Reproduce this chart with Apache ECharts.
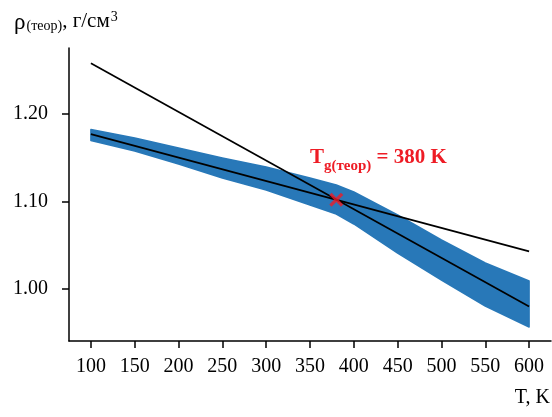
<!DOCTYPE html>
<html><head><meta charset="utf-8">
<script src="https://cdn.jsdelivr.net/npm/echarts@6/dist/echarts.min.js"></script>
<style>html,body{margin:0;padding:0;background:#fff}#c{width:552px;height:417px}</style>
</head><body><div id="c"></div>
<script>
// Scatter band envelope (T, K -> density bounds)
const bandT     = [100,    150,    200,    250,    300,    350,    380,    400,    450,    500,    550,    600];
const bandLower = [1.1697, 1.1577, 1.1429, 1.1269, 1.1131, 1.0960, 1.0857, 1.0743, 1.0411, 1.0103, 0.9806, 0.9566];
const bandUpper = [1.1823, 1.1726, 1.1611, 1.1497, 1.1394, 1.1269, 1.1189, 1.1109, 1.0846, 1.0560, 1.0297, 1.0091];
// Fit lines
const fitGlassT = [100, 600];
const fitGlassRho = [1.177, 1.043];
const fitMeltT = [100, 600];
const fitMeltRho = [1.258, 0.980];
// Glass transition point
const tgPoint = [380, 1.102];
// Ticks
const xTicks = [100, 150, 200, 250, 300, 350, 400, 450, 500, 550, 600];
const yTicks = [1.00, 1.10, 1.20];

const BLUE = '#2878b8';
const RED = '#ee1c25';
const FONT = '"Liberation Serif", "Times New Roman", serif';
const X_PATH = 'path://M2,0 L6,4 L10,0 L12,2 L8,6 L12,10 L10,12 L6,8 L2,12 L0,10 L4,6 L0,2 Z';

const chart = echarts.init(document.getElementById('c'), null, {renderer: 'canvas'});
const bandData = bandT.map((t, i) => [t, bandLower[i], bandUpper[i]]);

chart.setOption({
  animation: false,
  backgroundColor: '#fff',
  grid: {left: 69, right: 1, top: 48, bottom: 76, containLabel: false, outerBoundsMode: 'none'},
  xAxis: {
    type: 'value', min: 75, max: 625,
    axisLine: {show: true, onZero: false, lineStyle: {color: '#000', width: 1.5}},
    axisTick: {show: true, customValues: xTicks, length: 7, lineStyle: {color: '#000', width: 1.5}},
    axisLabel: {customValues: xTicks, color: '#000', fontSize: 20, fontFamily: FONT, margin: 16},
    splitLine: {show: false}
  },
  yAxis: {
    type: 'value', min: 0.9406, max: 1.2754,
    axisLine: {show: true, onZero: false, lineStyle: {color: '#000', width: 1.5}},
    axisTick: {show: true, customValues: yTicks, length: 7, lineStyle: {color: '#000', width: 1.5}},
    axisLabel: {customValues: yTicks, color: '#000', fontSize: 20, fontFamily: FONT, margin: 21,
      formatter: v => v.toFixed(2)},
    splitLine: {show: false}
  },
  series: [
    {
      type: 'custom', z: 2, silent: true,
      data: bandData,
      encode: {x: 0, y: [1, 2]},
      renderItem: function (params, api) {
        if (params.dataIndex !== 0) return null;
        const pts = [];
        for (let i = 0; i < bandData.length; i++) pts.push(api.coord([bandData[i][0], bandData[i][2]]));
        for (let i = bandData.length - 1; i >= 0; i--) pts.push(api.coord([bandData[i][0], bandData[i][1]]));
        return {type: 'polygon', shape: {points: pts}, style: {fill: BLUE, stroke: BLUE, lineWidth: 1.5, lineJoin: 'round'}};
      }
    },
    {
      type: 'line', z: 3, symbol: 'none', silent: true,
      data: fitGlassT.map((t, i) => [t, fitGlassRho[i]]),
      lineStyle: {color: '#000', width: 1.7}
    },
    {
      type: 'line', z: 3, symbol: 'none', silent: true,
      data: fitMeltT.map((t, i) => [t, fitMeltRho[i]]),
      lineStyle: {color: '#000', width: 1.7}
    },
    {
      type: 'scatter', z: 4, silent: true,
      data: [tgPoint], symbol: X_PATH, symbolSize: 14,
      itemStyle: {color: RED}
    }
  ],
  graphic: [
    {
      type: 'text', left: 14, top: 10, silent: true,
      style: {
        text: '{r|ρ}{s|(теор)}{m|, г/см}{p|3}',
        fill: '#000', font: '21px ' + FONT, align: 'left', verticalAlign: 'top',
        rich: {
          r: {fontSize: 23, fontFamily: FONT, lineHeight: 22, padding: [1, 1, 0, 0], verticalAlign: 'top'},
          s: {fontSize: 14, fontFamily: FONT, lineHeight: 14, padding: [9, 0, 0, 0], verticalAlign: 'top'},
          m: {fontSize: 21, fontFamily: FONT, lineHeight: 22, padding: [1, 0, 0, 0], verticalAlign: 'top'},
          p: {fontSize: 14, fontFamily: FONT, lineHeight: 14, padding: [0, 0, 0, 1], verticalAlign: 'top'}
        }
      }
    },
    {
      type: 'text', right: 2, top: 388, silent: true,
      style: {text: 'T, K', fill: '#000', font: '20px ' + FONT, align: 'right', verticalAlign: 'top'}
    },
    {
      type: 'text', left: 310, top: 147, silent: true,
      style: {
        text: '{t|T}{s|g(теор)}{n| = 380 K}',
        fill: RED, font: 'bold 21px ' + FONT, align: 'left', verticalAlign: 'top',
        rich: {
          t: {fontSize: 21, fontWeight: 'bold', fontFamily: FONT, fill: RED, lineHeight: 21, verticalAlign: 'top'},
          s: {fontSize: 15, fontWeight: 'bold', fontFamily: FONT, fill: RED, lineHeight: 15, verticalAlign: 'top', padding: [12, 0, 0, 0]},
          n: {fontSize: 21, fontWeight: 'bold', fontFamily: FONT, fill: RED, lineHeight: 21, verticalAlign: 'top'}
        }
      }
    }
  ]
});
</script>
</body></html>
